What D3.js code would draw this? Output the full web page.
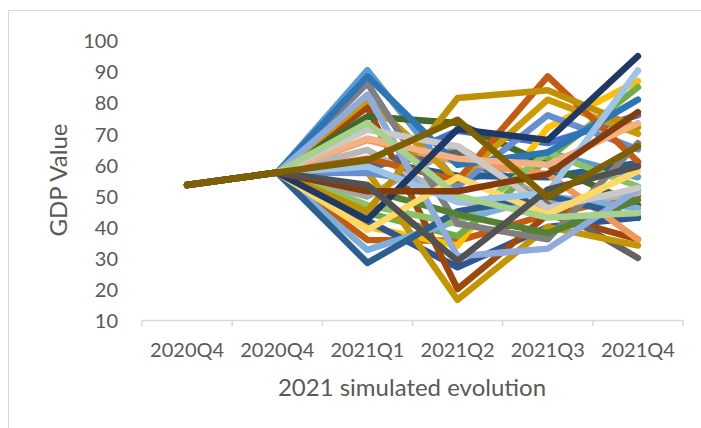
<!DOCTYPE html>
<html>
<head>
<meta charset="utf-8">
<script src="https://cdn.jsdelivr.net/npm/d3@7"></script>
<style>
  html, body { margin: 0; padding: 0; background: #fff; }
  svg { display: block; }
  text { font-family: Lato, "Open Sans", sans-serif; fill: #595959; }
</style>
</head>
<body>
<svg id="chart" width="701" height="428"></svg>
<script>
// Category labels along the x axis
const categories = ["2020Q4", "2020Q4", "2021Q1", "2021Q2", "2021Q3", "2021Q4"];
// Common starting values shared by every simulated path
const startValues = [53.5, 57.5];
// Simulated 2021 quarters (Q1..Q4) for each path, in drawing order
const s01 = [58, 71, 67, 76];
const s02 = [35.8, 35.5, 44, 50];
const s03 = [49.8, 66, 48, 51];
const s04 = [40, 34, 72, 87];
const s05 = [90.5, 54, 64, 56];
const s06 = [44.5, 37, 62, 85];
const s07 = [42, 27, 40, 43];
const s08 = [78.5, 20, 44, 36];
const s09 = [60, 64, 47, 30];
const s10 = [57.7, 16.5, 40, 34];
const s11 = [61.6, 56.5, 56, 60.6];
const s12 = [75.6, 73.5, 60, 47];
const s13 = [57.4, 53, 76, 65];
const s14 = [68, 61, 57, 36];
const s15 = [64.8, 48, 46, 51];
const s16 = [81, 55, 81, 70];
const s17 = [32.6, 42, 50, 46];
const s18 = [47, 41, 64, 53];
const s19 = [28.4, 45, 50, 42.9];
const s20 = [62, 55, 88.5, 61];
const s21 = [86.3, 41, 36, 67];
const s22 = [45, 81.5, 84, 72];
const s23 = [88.5, 60, 64, 81];
const s24 = [52, 44, 38, 48.7];
const s25 = [82.6, 30.5, 33, 52];
const s26 = [68.5, 62, 60, 73.4];
const s27 = [71.3, 66, 46, 52.5];
const s28 = [39, 56, 44, 58];
const s29 = [59.5, 48, 51, 90.4];
const s30 = [73.5, 50, 43, 44.5];
const s31 = [42.3, 71.5, 68, 95];
const s32 = [51.5, 51.5, 57, 77];
const s33 = [53.5, 29, 52, 59.5];
const s34 = [61.5, 74.5, 49.5, 66];
const paths = [s01, s02, s03, s04, s05, s06, s07, s08, s09, s10, s11, s12,
               s13, s14, s15, s16, s17, s18, s19, s20, s21, s22, s23, s24,
               s25, s26, s27, s28, s29, s30, s31, s32, s33, s34];
// Office-style series colours, cycling through shades of the six accents
const colors = [
  "#4472C4", "#C55A11", "#A5A5A5", "#FFC000", "#5B9BD5", "#70AD47",
  "#2F5597", "#9E480E", "#636363", "#C59500", "#255E91", "#43682B",
  "#698ED0", "#F1975A", "#B7B7B7", "#CC9A00", "#7CAFDD", "#8CC168",
  "#2E5E8E", "#C55A11", "#7F7F7F", "#BF9000", "#2E75B6", "#548235",
  "#8FAADC", "#F4B183", "#C9C9C9", "#FFD966", "#9DC3E6", "#A9D18E",
  "#203864", "#843C0C", "#525252", "#7F6000"
];
const yTicks = [10, 20, 30, 40, 50, 60, 70, 80, 90, 100];

const svg = d3.select("#chart");

// Chart-area frame
svg.append("rect")
  .attr("x", 8.5).attr("y", 10.5)
  .attr("width", 720).attr("height", 440)
  .attr("fill", "#fff")
  .attr("stroke", "#D9D9D9").attr("stroke-width", 1);

const x = d3.scaleBand()
  .domain(d3.range(categories.length))
  .range([142, 683]);
const y = d3.scaleLinear()
  .domain([10, 100])
  .range([320, 40.7]);

// Y axis: labels only
const yAxis = svg.append("g")
  .attr("transform", "translate(142,0)")
  .call(d3.axisLeft(y).tickValues(yTicks).tickSize(0).tickPadding(24));
yAxis.select(".domain").remove();
yAxis.selectAll("text")
  .style("font-size", "20px")
  .attr("dy", "0.36em");

// X axis: light baseline with tick marks at the category boundaries
const xAxis = svg.append("g")
  .attr("transform", "translate(0,320)")
  .call(d3.axisBottom(x).tickFormat(i => categories[i]).tickSize(0).tickPadding(23));
xAxis.select(".domain").attr("stroke", "#D9D9D9").attr("stroke-width", 1.5);
xAxis.selectAll("text").style("font-size", "20px");
const edges = d3.range(categories.length + 1).map(i => i === categories.length ? x.range()[1] : x(i));
xAxis.selectAll("line.edge")
  .data(edges)
  .join("line")
  .attr("class", "edge")
  .attr("x1", d => d).attr("x2", d => d)
  .attr("y1", 0).attr("y2", 6)
  .attr("stroke", "#D9D9D9").attr("stroke-width", 1.5);

// Lines
const line = d3.line()
  .x((d, i) => x(i) + x.bandwidth() / 2)
  .y(d => y(d));

svg.append("g")
  .selectAll("path")
  .data(paths.map(p => startValues.concat(p)))
  .join("path")
  .attr("d", line)
  .attr("fill", "none")
  .attr("stroke", (d, i) => colors[i % colors.length])
  .attr("stroke-width", 6.5)
  .attr("stroke-linejoin", "round")
  .attr("stroke-linecap", "round");

// Axis titles
svg.append("text")
  .attr("transform", "translate(59,180) rotate(-90)")
  .attr("text-anchor", "middle")
  .attr("dy", "0.35em")
  .style("font-size", "24px")
  .text("GDP Value");

svg.append("text")
  .attr("x", 412).attr("y", 388)
  .attr("text-anchor", "middle")
  .attr("dy", "0.35em")
  .style("font-size", "24px")
  .text("2021 simulated evolution");
</script>
</body>
</html>
